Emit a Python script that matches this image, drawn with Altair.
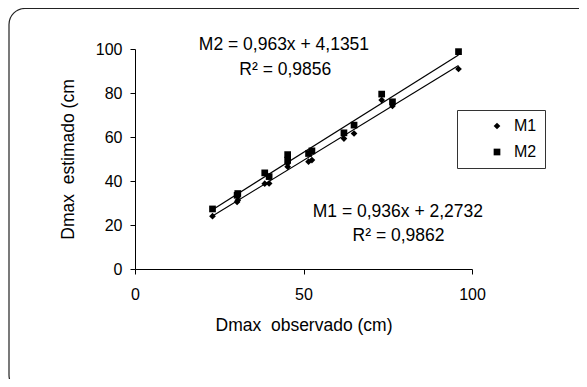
import altair as alt
import pandas as pd

# Observed Dmax (cm), shared by both models
observado = [23.0, 30.3, 30.5, 38.5, 39.8, 45.3, 45.3, 51.5, 52.5, 62.0, 65.0, 73.2, 76.4, 96.0]
# Estimated Dmax (cm)
m1 = [24.0, 30.5, 31.3, 38.8, 38.9, 46.5, 48.0, 48.8, 49.5, 59.3, 61.6, 76.8, 74.1, 90.9]
m2 = [27.3, 33.5, 34.3, 43.7, 42.0, 52.0, 49.5, 52.5, 53.7, 61.9, 65.4, 79.5, 76.0, 98.8]
series = ["M1", "M2"]

x_ticks = [0, 50, 100]
y_ticks = [0, 20, 40, 60, 80, 100]

eq_text = ["M2 = 0,963x + 4,1351", "R² = 0,9856", "M1 = 0,936x + 2,2732", "R² = 0,9862"]
eq_x = [44.2, 44.6, 78.0, 78.2]
eq_y = [101.8, 90.6, 25.8, 14.8]

FONT = "Liberation Sans"

rows = []
for o, a, b in zip(observado, m1, m2):
    rows.append({"obs": o, "est": a, "serie": series[0]})
    rows.append({"obs": o, "est": b, "serie": series[1]})
df = pd.DataFrame(rows)
ann = pd.DataFrame({"t": eq_text, "x": eq_x, "y": eq_y})

W, H = 337, 220
PL, PT = 127, 41
TOTW, TOTH = 571, 371

xs = alt.Scale(domain=[0, 100], nice=False, padding=0, zero=False)
ys = alt.Scale(domain=[0, 100], nice=False, padding=0, zero=False)

frame = alt.Chart(pd.DataFrame({"a": [0]})).mark_rect(
    fill=None, filled=False, stroke="#222222", strokeWidth=1.2, cornerRadius=16
).encode(
    x=alt.value(-126), y=alt.value(-40.5),
    x2=alt.value(TOTW - PL + 20), y2=alt.value(TOTH - PT + 12),
)

pts = alt.Chart(df).mark_point(filled=True, size=45, opacity=1).encode(
    x=alt.X("obs:Q", scale=xs,
            axis=alt.Axis(values=x_ticks, title="Dmax\u00a0\u00a0observado (cm)", labelPadding=12,
                          labelFlush=False, titlePadding=14)),
    y=alt.Y("est:Q", scale=ys,
            axis=alt.Axis(values=y_ticks, title="Dmax\u00a0\u00a0estimado (cm", labelPadding=8,
                          labelFlush=False, titlePadding=18)),
    shape=alt.Shape("serie:N", scale=alt.Scale(domain=series, range=["diamond", "square"]),
                    legend=alt.Legend(title=None,
                                      orient="none", legendX=322, legendY=61,
                                      strokeColor="#333333", fillColor="white", padding=8,
                                      labelFont=FONT, labelFontSize=16, labelColor="black",
                                      symbolSize=45, symbolFillColor="black",
                                      symbolStrokeColor="black", symbolOffset=24,
                                      labelOffset=9, rowPadding=10)),
    color=alt.value("black"),
)

lines = alt.Chart(df).transform_regression(
    "obs", "est", groupby=["serie"]
).mark_line(color="black", strokeWidth=1.2).encode(
    x=alt.X("obs:Q", scale=xs),
    y=alt.Y("est:Q", scale=ys),
    detail="serie:N",
)

texts = alt.Chart(ann).mark_text(font=FONT, fontSize=17.5, color="black",
                                 align="center", baseline="middle").encode(
    x=alt.X("x:Q", scale=xs), y=alt.Y("y:Q", scale=ys), text="t:N"
)

chart = alt.layer(frame, lines, pts, texts).properties(
    width=W, height=H,
    autosize=alt.AutoSizeParams(type="none"),
    padding={"left": PL, "top": PT, "right": TOTW - PL - W, "bottom": TOTH - PT - H},
    background="white",
).configure_view(stroke=None).configure_axis(
    grid=False, domainColor="black", tickColor="black", tickSize=5, domainWidth=1,
    labelFont=FONT, labelFontSize=16, labelColor="black",
    titleFont=FONT, titleFontSize=17.5, titleFontWeight="normal", titleColor="black",
)

chart.save("out.html", embed_options={"renderer": "svg", "actions": False})
